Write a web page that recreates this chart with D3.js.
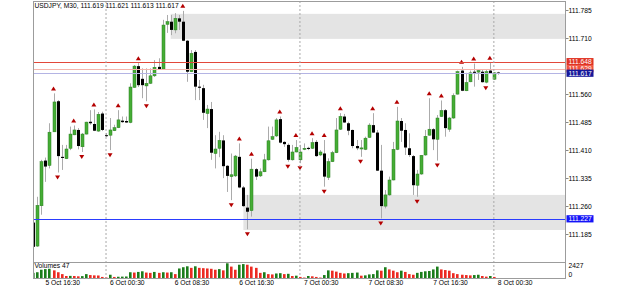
<!DOCTYPE html>
<html>
<head>
<meta charset="utf-8">
<script src="https://cdn.jsdelivr.net/npm/d3@7"></script>
<style>
body { margin: 0; background: #fff; }
text { font-family: "Liberation Sans", Arial, sans-serif; font-size: 6.7px; fill: #000; }
</style>
</head>
<body>
<svg id="chart"></svg>
<script>
// USDJPY M30, bar index 0..115
const opens = [111.217,111.154,111.262,111.383,111.370,111.460,111.542,111.393,111.388,111.416,
111.452,111.465,111.420,111.454,111.487,111.481,111.462,111.509,111.451,111.451,
111.463,111.471,111.490,111.489,111.485,111.579,111.636,111.602,111.583,111.590,
111.610,111.634,111.628,111.748,111.755,111.733,111.764,111.755,111.704,111.621,
111.674,111.581,111.577,111.509,111.521,111.402,111.416,111.437,111.369,111.340,
111.342,111.393,111.311,111.257,111.249,111.360,111.342,111.353,111.385,111.440,
111.449,111.494,111.433,111.425,111.385,111.406,111.385,111.413,111.417,111.416,
111.433,111.398,111.402,111.338,111.380,111.404,111.467,111.501,111.483,111.465,
111.422,111.414,111.413,111.445,111.478,111.458,111.356,111.261,111.291,111.331,
111.413,111.489,111.465,111.416,111.395,111.317,111.347,111.398,111.451,111.467,
111.440,111.501,111.518,111.467,111.497,111.561,111.624,111.570,111.594,111.621,
111.620,111.621,111.593,111.624,111.601,111.619]
const highs = [111.224,111.286,111.385,111.391,111.483,111.563,111.545,111.425,111.425,111.474,
111.477,111.470,111.457,111.487,111.518,111.520,111.513,111.514,111.457,111.497,
111.479,111.518,111.501,111.501,111.590,111.639,111.644,111.630,111.630,111.630,
111.652,111.657,111.760,111.773,111.773,111.778,111.773,111.784,111.706,111.679,
111.679,111.599,111.586,111.532,111.540,111.451,111.460,111.451,111.371,111.402,
111.398,111.429,111.315,111.291,111.388,111.363,111.362,111.401,111.474,111.474,
111.497,111.501,111.435,111.429,111.425,111.438,111.425,111.429,111.420,111.443,
111.438,111.411,111.438,111.389,111.409,111.497,111.510,111.508,111.487,111.466,
111.438,111.438,111.447,111.483,111.510,111.465,111.425,111.304,111.340,111.433,
111.527,111.497,111.483,111.456,111.398,111.358,111.398,111.465,111.550,111.470,
111.505,111.544,111.521,111.500,111.563,111.624,111.634,111.618,111.624,111.643,
111.626,111.626,111.626,111.645,111.620,111.621]
const lows = [111.149,111.152,111.238,111.326,111.362,111.460,111.351,111.358,111.387,111.411,
111.451,111.413,111.406,111.453,111.479,111.462,111.460,111.462,111.446,111.411,
111.462,111.470,111.484,111.484,111.483,111.578,111.580,111.550,111.542,111.588,
111.607,111.626,111.626,111.725,111.719,111.724,111.733,111.703,111.594,111.620,
111.545,111.545,111.492,111.470,111.385,111.362,111.392,111.336,111.299,111.277,
111.339,111.309,111.259,111.199,111.233,111.331,111.339,111.352,111.383,111.438,
111.446,111.429,111.420,111.380,111.383,111.405,111.376,111.411,111.411,111.414,
111.393,111.395,111.313,111.331,111.379,111.403,111.465,111.484,111.451,111.416,
111.411,111.393,111.411,111.444,111.457,111.355,111.228,111.255,111.289,111.330,
111.411,111.433,111.398,111.393,111.291,111.286,111.345,111.396,111.450,111.411,
111.383,111.500,111.447,111.460,111.495,111.560,111.569,111.569,111.593,111.581,
111.599,111.592,111.590,111.616,111.599,111.613]
const closes = [111.152,111.263,111.380,111.367,111.459,111.540,111.395,111.390,111.414,111.454,
111.465,111.422,111.454,111.486,111.483,111.463,111.507,111.465,111.450,111.465,
111.471,111.492,111.486,111.485,111.580,111.636,111.585,111.585,111.590,111.610,
111.633,111.628,111.746,111.755,111.733,111.764,111.755,111.704,111.621,111.670,
111.581,111.578,111.511,111.521,111.404,111.414,111.437,111.368,111.342,111.345,
111.395,111.311,111.261,111.246,111.360,111.340,111.353,111.385,111.436,111.447,
111.492,111.431,111.427,111.385,111.406,111.418,111.406,111.416,111.414,111.431,
111.395,111.406,111.340,111.380,111.404,111.465,111.501,111.485,111.463,111.422,
111.416,111.417,111.443,111.478,111.458,111.356,111.261,111.291,111.331,111.413,
111.489,111.463,111.418,111.398,111.317,111.347,111.397,111.448,111.467,111.440,
111.497,111.517,111.470,111.497,111.557,111.621,111.570,111.592,111.618,111.618,
111.624,111.593,111.621,111.617,111.618,111.617]
const volumes = [900,1000,1400,1500,1550,1300,1000,700,400,420,
400,350,380,700,550,500,480,250,150,600,
250,280,300,320,1000,950,1050,1150,950,900,
1050,900,1000,950,1000,700,1600,1800,1950,1700,
1950,1700,1650,1600,1550,1400,1500,1300,2427,1900,
1400,2200,2300,2200,1900,1700,900,1000,700,650,
800,850,700,750,400,450,250,150,400,350,
250,150,550,1300,1250,1100,900,800,850,900,
950,450,500,650,700,1300,1250,1800,1450,1250,
1000,1250,1050,700,600,900,1050,1150,1200,1450,
1900,1450,1350,1250,850,700,600,550,500,550,
600,400,300,400,250,47]

const upFractals = [5,10,15,21,26,37,51,54,61,65,69,72,76,84,90,98,101,106,109,113]
const downFractals = [6,12,19,28,49,53,63,66,72,81,86,95,100,112]

const priceTicks = [111.785,111.710,111.560,111.485,111.410,111.335,111.260,111.185]
const timeIdx = [2,18,34,50,66,82,98,114]
const timeLabels = ["5 Oct 16:30","6 Oct 00:30","6 Oct 08:30","6 Oct 16:30","7 Oct 00:30","7 Oct 08:30","7 Oct 16:30","8 Oct 00:30"]
const dayLines = [18,66,114]

const zoneStart = [34,52]
const zoneHigh = [111.776,111.291]
const zoneLow = [111.709,111.197]

const levelPrices = [111.629,111.648,111.617,111.227]
const levelLine = ["#f5b4ab","#e2483a","#b4b4e4","#2a3cff"]
const levelBox = ["#f0503c","#e03424","#16189a","#1414f8"]

const header = "USDJPY, M30, 111.619 111.621 111.613 111.617"

const L = 33, R = 566, T = 1, MB = 262, VB = 278.5

const svg = d3.select("#chart")
    .attr("width", 625)
    .attr("height", 289)

const x = d3.scaleLinear().domain([0, 115]).range([33.3, 497.9])
const y = d3.scaleLinear().domain([111.185, 111.785]).range([234.5, 10.5])
const yv = d3.scaleLinear().domain([0, 2427]).range([VB, 263.3])

svg.append("rect").attr("width", 625).attr("height", 289).attr("fill", "#fff")

const defs = svg.append("defs")
defs.append("clipPath").attr("id", "clipMain")
    .append("rect").attr("x", L).attr("y", T).attr("width", R - L).attr("height", MB - T)
defs.append("clipPath").attr("id", "clipVol")
    .append("rect").attr("x", L).attr("y", MB).attr("width", R - L).attr("height", VB - MB)

const main = svg.append("g").attr("clip-path", "url(#clipMain)")

// zones
main.selectAll(".zone").data(zoneStart).enter().append("rect")
    .attr("x", d => x(d))
    .attr("y", (d, i) => y(zoneHigh[i]))
    .attr("width", d => R - x(d))
    .attr("height", (d, i) => y(zoneLow[i]) - y(zoneHigh[i]))
    .attr("fill", "#e4e4e4")

// dashed day separators
svg.selectAll(".day").data(dayLines).enter().append("line")
    .attr("x1", d => x(d)).attr("x2", d => x(d))
    .attr("y1", T).attr("y2", VB)
    .attr("stroke", "#a8a8a8")
    .attr("stroke-width", 1)
    .attr("stroke-dasharray", "2,2")

// candles
const idx = d3.range(opens.length)
main.selectAll(".wick").data(idx).enter().append("line")
    .attr("x1", i => Math.round(x(i)) + 0.5).attr("x2", i => Math.round(x(i)) + 0.5)
    .attr("y1", i => y(highs[i])).attr("y2", i => y(lows[i]))
    .attr("stroke", "#ababab")
    .attr("stroke-width", 1)

main.selectAll(".body").data(idx).enter().append("rect")
    .attr("x", i => Math.round(x(i)) - 1)
    .attr("y", i => y(Math.max(opens[i], closes[i])))
    .attr("width", 3)
    .attr("height", i => Math.max(1, Math.abs(y(opens[i]) - y(closes[i]))))
    .attr("fill", i => closes[i] > opens[i] ? "#45ad35" : "#000")
    .attr("stroke", i => closes[i] > opens[i] ? "#2a7f20" : "none")
    .attr("stroke-width", 0.5)

// fractals
main.selectAll(".fup").data(upFractals).enter().append("path")
    .attr("d", i => {
        const cx = x(i), cy = y(highs[i]) - 5
        return `M${cx - 2.5},${cy + 2}L${cx + 2.5},${cy + 2}L${cx},${cy - 2}Z`
    })
    .attr("fill", "#b40000")
main.selectAll(".fdn").data(downFractals).enter().append("path")
    .attr("d", i => {
        const cx = x(i), cy = y(lows[i]) + 5
        return `M${cx - 2.5},${cy - 2}L${cx + 2.5},${cy - 2}L${cx},${cy + 2}Z`
    })
    .attr("fill", "#b40000")

// horizontal levels
main.selectAll(".lvl").data(levelPrices).enter().append("line")
    .attr("x1", L).attr("x2", R)
    .attr("y1", d => Math.round(y(d)) + 0.5).attr("y2", d => Math.round(y(d)) + 0.5)
    .attr("stroke", (d, i) => levelLine[i])
    .attr("stroke-width", 1)

// volumes
const vol = svg.append("g").attr("clip-path", "url(#clipVol)")
vol.selectAll(".vbar").data(idx).enter().append("rect")
    .attr("x", i => Math.round(x(i)) - 1)
    .attr("y", i => yv(volumes[i]))
    .attr("width", 2.6)
    .attr("height", i => VB - yv(volumes[i]))
    .attr("fill", i => (i > 0 && volumes[i] > volumes[i - 1]) || i == 0 ? "#1b7d1b" : "#ec2a22")

// frame
const frame = svg.append("g").attr("stroke", "#9c9c9c").attr("stroke-width", 1).attr("fill", "none")
frame.append("rect").attr("x", L + 0.5).attr("y", T + 0.5).attr("width", R - L - 1).attr("height", VB - T - 0.5)
frame.append("line").attr("x1", L).attr("x2", R).attr("y1", MB + 0.5).attr("y2", MB + 0.5)

// price axis
svg.selectAll(".ptick").data(priceTicks).enter().append("line")
    .attr("x1", R).attr("x2", R + 2.5)
    .attr("y1", d => y(d)).attr("y2", d => y(d))
    .attr("stroke", "#555").attr("stroke-width", 0.7)
svg.selectAll(".plabel").data(priceTicks).enter().append("text")
    .attr("x", R + 2.5)
    .attr("y", d => y(d) + 2.4)
    .text(d => d.toFixed(3))

// price boxes
const boxes = svg.selectAll(".pbox").data(levelPrices).enter().append("g")
boxes.append("rect")
    .attr("x", R + 0.5)
    .attr("y", d => y(d) - 3.6)
    .attr("width", 27)
    .attr("height", 7.2)
    .attr("fill", (d, i) => levelBox[i])
boxes.append("text")
    .attr("x", R + 2.5)
    .attr("y", d => y(d) + 2.4)
    .style("fill", "#fff")
    .text(d => d.toFixed(3))

// volume axis
svg.append("text").attr("x", R + 2.5).attr("y", 267.5).text("2427")
svg.append("text").attr("x", R + 2.5).attr("y", 277).text("0")
svg.append("text").attr("x", L + 1.5).attr("y", 267.5).text("Volumes " + volumes[volumes.length - 1])

// time axis
svg.selectAll(".tlabel").data(timeIdx).enter().append("text")
    .attr("x", d => x(d) + 4)
    .attr("y", 285)
    .text((d, i) => timeLabels[i])

// header
svg.append("text").attr("x", L + 1.5).attr("y", 8.3).text(header)
</script>
</body>
</html>
